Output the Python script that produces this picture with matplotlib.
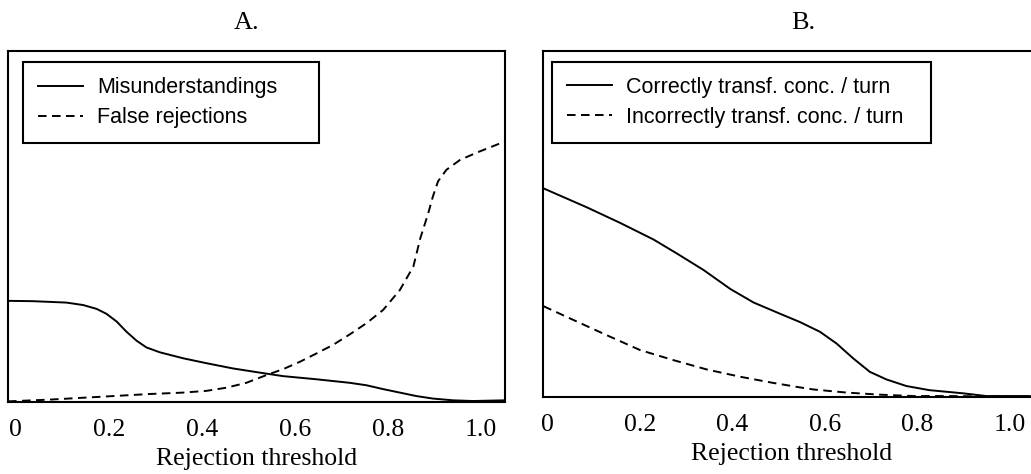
import matplotlib
matplotlib.use("Agg")
import matplotlib.pyplot as plt

# Panel A: misunderstandings / false rejections vs. rejection threshold
a_mis_x = [-0.0165, 0.037, 0.109, 0.145, 0.174, 0.195, 0.217, 0.238, 0.260, 0.281,
           0.310, 0.360, 0.410, 0.467, 0.525, 0.575, 0.647, 0.718, 0.754, 0.790,
           0.826, 0.862, 0.897, 0.940, 0.983, 1.052]
a_mis_y = [0.288, 0.287, 0.283, 0.276, 0.265, 0.251, 0.229, 0.200, 0.174, 0.155,
           0.141, 0.124, 0.110, 0.095, 0.083, 0.073, 0.064, 0.054, 0.047, 0.036,
           0.026, 0.016, 0.009, 0.004, 0.002, 0.004]

a_rej_x = [-0.0165, 0.073, 0.181, 0.288, 0.360, 0.410, 0.453, 0.496, 0.539, 0.575,
           0.611, 0.647, 0.682, 0.718, 0.754, 0.790, 0.826, 0.855, 0.870, 0.887,
           0.897, 0.908, 0.926, 0.955, 0.991, 1.052]
a_rej_y = [0.001, 0.006, 0.014, 0.022, 0.026, 0.031, 0.040, 0.054, 0.076, 0.093,
           0.114, 0.138, 0.162, 0.192, 0.224, 0.262, 0.319, 0.386, 0.467, 0.538,
           0.586, 0.629, 0.662, 0.690, 0.711, 0.743]

# Panel B: concepts per turn vs. rejection threshold
b_cor_x = [-0.009, 0.085, 0.157, 0.229, 0.279, 0.337, 0.395, 0.445, 0.503, 0.546,
           0.589, 0.625, 0.661, 0.697, 0.733, 0.776, 0.826, 0.898, 0.949, 1.043]
b_cor_y = [0.603, 0.548, 0.503, 0.455, 0.415, 0.367, 0.312, 0.273, 0.240, 0.216,
           0.188, 0.154, 0.111, 0.072, 0.050, 0.031, 0.019, 0.010, 0.002, 0.002]

b_inc_x = [-0.009, 0.056, 0.128, 0.200, 0.272, 0.344, 0.416, 0.488, 0.546, 0.575,
           0.647, 0.719, 0.791, 0.863, 1.043]
b_inc_y = [0.262, 0.222, 0.178, 0.135, 0.106, 0.079, 0.058, 0.040, 0.027, 0.021,
           0.012, 0.006, 0.002, 0.002, 0.000]

ticks = [0, 0.2, 0.4, 0.6, 0.8, 1.0]
tick_labels = ["0", "0.2", "0.4", "0.6", "0.8", "1.0"]

serif = "Liberation Serif"
sans = "Liberation Sans"
dash = (0, (4.4, 2.8))

fig = plt.figure(figsize=(10.31, 4.74), dpi=100)
ax_a = fig.add_axes([0.0078, 0.1525, 0.482, 0.739])
ax_b = fig.add_axes([0.5267, 0.163, 0.482, 0.729])


def style_axes(ax, title, xlim, title_x):
    ax.set_xlim(*xlim)
    ax.set_ylim(0, 1)
    ax.set_yticks([])
    ax.set_xticks(ticks)
    ax.set_xticklabels(tick_labels, fontfamily=serif, fontsize=18.5)
    ax.tick_params(axis="x", length=0, pad=12.5)
    ax.set_xlabel("Rejection threshold", fontfamily=serif, fontsize=18.5, labelpad=5)
    ax.set_title(title, fontfamily=serif, fontsize=19, pad=16, x=title_x)
    for s in ax.spines.values():
        s.set_linewidth(1.5)
        s.set_color("black")


def add_legend(ax, x0, width):
    # box is wider than its text in the original, so stretch it to a fixed width
    leg = ax.legend(loc="upper left", bbox_to_anchor=(x0, 0.0, width, 0.969),
                    mode="expand", prop={"family": sans, "size": 15.5},
                    frameon=True, fancybox=False, framealpha=1, edgecolor="black",
                    handlelength=2.1, handletextpad=0.65, labelspacing=0.42,
                    borderpad=0.7, borderaxespad=0)
    leg.get_frame().set_linewidth(1.5)


ax_a.plot(a_mis_x, a_mis_y, color="black", lw=1.4, label="Misunderstandings")
ax_a.plot(a_rej_x, a_rej_y, color="black", lw=1.4, linestyle=dash, label="False rejections")
style_axes(ax_a, "A.", (-0.0165, 1.052), 0.48)
add_legend(ax_a, 0.030, 0.596)

ax_b.plot(b_cor_x, b_cor_y, color="black", lw=1.4, label="Correctly transf. conc. / turn")
ax_b.plot(b_inc_x, b_inc_y, color="black", lw=1.4, linestyle=dash,
          label="Incorrectly transf. conc. / turn")
style_axes(ax_b, "B.", (-0.010, 1.065), 0.523)
add_legend(ax_b, 0.018, 0.763)

fig.savefig("out.png", dpi=100)
